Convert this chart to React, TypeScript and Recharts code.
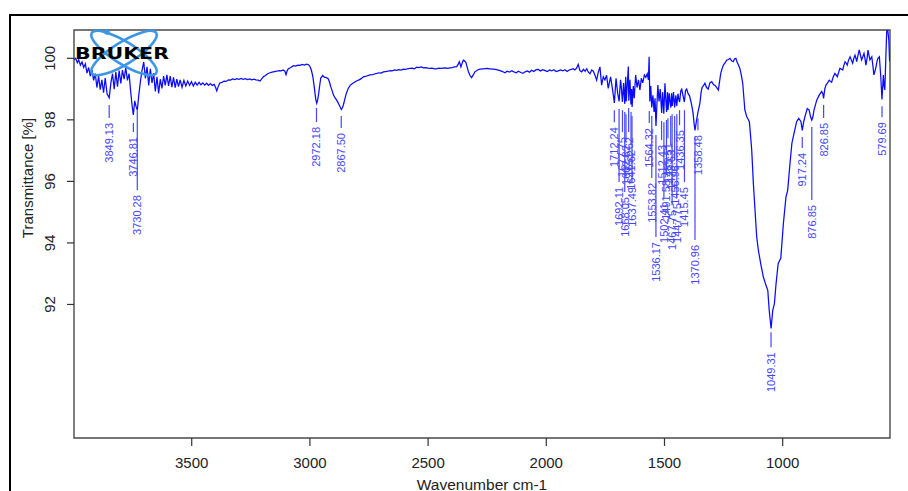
import React from 'react';
import { ComposedChart, Line, Scatter, XAxis, YAxis, ReferenceArea, Label } from 'recharts';

// ---- data ----
const spectrumPoints: [number, number][] = [
  [3998, 99.95], [3991, 100.0], [3984, 99.86], [3978, 99.95], [3971, 99.78], [3964, 99.88], [3957, 99.7], [3950, 99.82],
  [3943, 99.52], [3936, 99.7], [3929, 99.42], [3922, 99.62], [3915, 99.28], [3908, 99.5], [3901, 99.05], [3894, 99.42],
  [3887, 98.98], [3880, 99.3], [3873, 98.88], [3866, 99.36], [3858, 98.84], [3849, 98.72], [3842, 99.2], [3835, 99.5],
  [3828, 99.0], [3821, 99.55], [3814, 99.08], [3807, 99.6], [3800, 99.18], [3793, 99.62], [3786, 99.32], [3779, 99.7],
  [3772, 99.28], [3765, 99.5], [3758, 98.9], [3752, 98.45], [3747, 98.16], [3741, 98.62], [3735, 98.42], [3730, 98.32],
  [3724, 98.8], [3717, 99.25], [3710, 99.62], [3703, 99.88], [3696, 99.35], [3689, 99.72], [3682, 99.12], [3675, 99.66],
  [3668, 99.2], [3661, 99.52], [3654, 98.92], [3647, 99.4], [3640, 98.86], [3633, 99.32], [3626, 99.02], [3619, 99.42],
  [3612, 99.12], [3605, 99.46], [3598, 99.1], [3591, 99.42], [3584, 99.06], [3577, 99.38], [3570, 99.05], [3563, 99.32],
  [3556, 99.08], [3549, 99.3], [3541, 99.06], [3533, 99.28], [3525, 99.1], [3517, 99.26], [3509, 99.12], [3501, 99.24],
  [3493, 99.1], [3485, 99.22], [3477, 99.13], [3469, 99.22], [3461, 99.14], [3453, 99.2], [3445, 99.13], [3437, 99.19],
  [3429, 99.12], [3421, 99.18], [3413, 99.12], [3405, 99.15], [3399, 99.05], [3394, 98.94], [3388, 99.08], [3381, 99.2],
  [3372, 99.22], [3363, 99.26], [3354, 99.25], [3345, 99.3], [3336, 99.29], [3327, 99.33], [3318, 99.31], [3309, 99.34],
  [3300, 99.32], [3291, 99.35], [3282, 99.32], [3273, 99.34], [3264, 99.31], [3255, 99.33], [3246, 99.3], [3237, 99.32],
  [3228, 99.3], [3219, 99.29], [3211, 99.26], [3204, 99.33], [3197, 99.4], [3188, 99.44], [3179, 99.5], [3169, 99.53],
  [3160, 99.55], [3150, 99.57], [3140, 99.58], [3131, 99.6], [3122, 99.59], [3113, 99.62], [3106, 99.58], [3101, 99.47],
  [3096, 99.6], [3091, 99.66], [3081, 99.7], [3070, 99.76], [3061, 99.75], [3051, 99.78], [3042, 99.77], [3033, 99.8],
  [3023, 99.78], [3014, 99.81], [3006, 99.79], [3000, 99.74], [2994, 99.62], [2988, 99.42], [2983, 99.15], [2979, 98.9],
  [2975, 98.65], [2971, 98.54], [2967, 98.66], [2963, 98.85], [2958, 99.15], [2954, 99.36], [2946, 99.44], [2938, 99.38],
  [2932, 99.38], [2922, 99.33], [2917, 99.22], [2912, 99.08], [2906, 98.95], [2901, 98.82], [2894, 98.72], [2887, 98.64],
  [2881, 98.56], [2876, 98.48], [2871, 98.4], [2867, 98.34], [2862, 98.4], [2858, 98.5], [2852, 98.68], [2846, 98.86],
  [2838, 99.02], [2829, 99.13], [2820, 99.18], [2810, 99.23], [2801, 99.27], [2792, 99.3], [2783, 99.34], [2774, 99.4],
  [2765, 99.41], [2755, 99.44], [2746, 99.46], [2736, 99.47], [2727, 99.49], [2717, 99.51], [2708, 99.53], [2699, 99.52],
  [2689, 99.56], [2680, 99.57], [2670, 99.58], [2661, 99.6], [2652, 99.59], [2642, 99.62], [2633, 99.61], [2624, 99.63],
  [2614, 99.62], [2605, 99.65], [2596, 99.64], [2586, 99.66], [2577, 99.67], [2567, 99.68], [2558, 99.66], [2548, 99.71],
  [2539, 99.7], [2529, 99.72], [2520, 99.69], [2510, 99.7], [2501, 99.68], [2492, 99.67], [2483, 99.68], [2473, 99.66],
  [2464, 99.66], [2455, 99.68], [2446, 99.67], [2437, 99.68], [2427, 99.69], [2417, 99.67], [2407, 99.69], [2398, 99.7],
  [2388, 99.72], [2379, 99.73], [2373, 99.8], [2368, 99.89], [2364, 99.8], [2361, 99.72], [2357, 99.82], [2351, 99.94],
  [2346, 99.92], [2340, 99.86], [2335, 99.72], [2330, 99.58], [2323, 99.44], [2316, 99.37], [2309, 99.46], [2302, 99.56],
  [2291, 99.62], [2280, 99.65], [2266, 99.66], [2252, 99.67], [2238, 99.66], [2224, 99.65], [2210, 99.63], [2196, 99.6],
  [2185, 99.57], [2175, 99.53], [2166, 99.58], [2156, 99.55], [2146, 99.6], [2137, 99.56], [2127, 99.53], [2118, 99.58],
  [2108, 99.54], [2099, 99.51], [2090, 99.56], [2081, 99.59], [2071, 99.55], [2062, 99.61], [2053, 99.57], [2043, 99.63],
  [2034, 99.64], [2025, 99.59], [2015, 99.63], [2005, 99.6], [1996, 99.57], [1986, 99.62], [1977, 99.59], [1968, 99.63],
  [1958, 99.57], [1949, 99.59], [1940, 99.62], [1930, 99.59], [1921, 99.63], [1912, 99.57], [1903, 99.62], [1894, 99.64],
  [1886, 99.66], [1879, 99.62], [1872, 99.68], [1865, 99.8], [1858, 99.6], [1850, 99.56], [1843, 99.64], [1836, 99.58],
  [1829, 99.66], [1822, 99.55], [1815, 99.5], [1808, 99.62], [1801, 99.58], [1794, 99.45], [1787, 99.29], [1780, 99.55],
  [1773, 99.72], [1766, 99.13], [1759, 99.4], [1752, 99.3], [1745, 99.45], [1738, 99.02], [1728, 99.4], [1719, 98.95],
  [1712, 98.55], [1705, 99.35], [1698, 98.86], [1692, 98.6], [1686, 99.3], [1683, 99.1], [1678, 98.58], [1673, 99.2],
  [1668, 98.52], [1664, 99.4], [1662, 98.6], [1657, 99.2], [1653, 99.73], [1651, 98.62], [1646, 99.3], [1642, 98.5],
  [1639, 99.0], [1637, 98.42], [1632, 99.1], [1628, 98.7], [1622, 99.46], [1616, 99.05], [1610, 99.3], [1604, 98.97],
  [1598, 99.35], [1592, 99.2], [1585, 99.46], [1579, 99.38], [1573, 99.5], [1568, 99.3], [1565, 100.05], [1562, 98.6],
  [1558, 99.1], [1554, 98.4], [1549, 98.8], [1544, 98.26], [1540, 98.7], [1536, 97.8], [1532, 98.5], [1528, 99.13],
  [1523, 98.6], [1518, 99.0], [1512, 98.22], [1508, 98.9], [1503, 98.2], [1498, 99.19], [1494, 98.6], [1491, 98.26],
  [1487, 98.9], [1485, 98.32], [1480, 98.86], [1476, 98.55], [1473, 98.4], [1470, 98.86], [1467, 98.45], [1462, 98.9],
  [1457, 98.4], [1452, 98.8], [1448, 98.45], [1443, 98.85], [1439, 98.65], [1436, 98.58], [1431, 98.95], [1427, 99.0],
  [1422, 98.8], [1416, 98.58], [1411, 98.95], [1406, 99.0], [1400, 98.85], [1394, 98.78], [1388, 98.59], [1383, 98.4],
  [1379, 98.21], [1375, 97.9], [1371, 97.66], [1366, 97.9], [1363, 98.05], [1358, 98.27], [1354, 98.4], [1350, 98.55],
  [1345, 98.9], [1341, 99.05], [1336, 99.1], [1329, 99.19], [1322, 99.05], [1315, 99.0], [1308, 99.2], [1300, 99.24],
  [1293, 99.15], [1286, 99.12], [1279, 99.05], [1272, 98.97], [1267, 99.25], [1262, 99.51], [1257, 99.65], [1251, 99.78],
  [1244, 99.85], [1237, 99.94], [1230, 99.96], [1223, 100.0], [1216, 99.92], [1209, 99.89], [1204, 99.98], [1198, 100.0],
  [1193, 99.88], [1188, 99.8], [1181, 99.67], [1175, 99.45], [1169, 99.19], [1164, 98.7], [1160, 98.32], [1152, 98.1],
  [1146, 98.02], [1141, 97.94], [1136, 97.5], [1131, 97.02], [1124, 95.93], [1117, 95.07], [1110, 94.2], [1103, 93.77],
  [1093, 93.33], [1082, 92.9], [1071, 92.63], [1063, 92.46], [1057, 91.81], [1049, 91.22], [1042, 91.81], [1035, 92.03],
  [1028, 92.68], [1019, 93.33], [1008, 93.5], [997, 94.63], [986, 95.5], [979, 95.7], [969, 96.59], [961, 97.24],
  [952, 97.56], [941, 97.94], [932, 98.05], [923, 97.95], [917, 97.66], [912, 97.9], [906, 98.1], [896, 98.37],
  [888, 98.32], [882, 98.1], [877, 97.99], [872, 98.1], [868, 98.3], [856, 98.64], [845, 98.81], [835, 98.92],
  [830, 98.85], [827, 98.7], [822, 99.0], [817, 99.13], [810, 99.2], [803, 99.29], [798, 99.25], [793, 99.22],
  [786, 99.4], [779, 99.51], [774, 99.46], [769, 99.4], [763, 99.55], [758, 99.67], [752, 99.65], [746, 99.62],
  [741, 99.78], [736, 99.89], [731, 99.84], [727, 99.78], [721, 99.95], [715, 100.05], [710, 99.95], [704, 99.84],
  [699, 100.0], [694, 100.1], [690, 100.0], [687, 99.89], [682, 100.08], [676, 100.27], [671, 100.1], [666, 99.95],
  [661, 100.05], [656, 100.16], [652, 100.0], [648, 99.78], [643, 100.0], [639, 100.27], [635, 100.1], [631, 99.95],
  [627, 100.0], [623, 100.05], [619, 99.8], [614, 99.46], [609, 99.6], [605, 99.73], [601, 99.9], [597, 100.0],
  [591, 100.05], [585, 99.4], [580, 98.66], [576, 99.2], [574, 99.46], [571, 99.1], [568, 98.97], [566, 99.4],
  [564, 99.94], [560, 100.87], [556, 100.95], [551, 100.6], [548, 99.94], [546, 99.9],
];

const peakWavenumbers = [
  3849.13, 3746.81, 3730.28, 2972.18, 2867.5, 1712.24, 1692.11, 1677.75, 1668.05, 1662.82, 1651.62,
  1641.62, 1637.49, 1564.32, 1553.82, 1536.17, 1512.43, 1502.41, 1491.58, 1485.51, 1473.63, 1467.75,
  1456.96, 1447.75, 1436.35, 1415.45, 1370.96, 1358.48, 1049.31, 917.24, 876.85, 826.85, 579.69,
];
const peakTransmittance = [
  98.68, 98.09, 98.51, 98.58, 98.32, 98.51, 98.55, 98.51, 98.45, 98.38, 98.58,
  98.45, 98.32, 98.48, 98.32, 97.7, 98.16, 98.12, 98.19, 98.25, 98.32, 98.38,
  98.32, 98.38, 98.51, 98.51, 97.64, 98.25, 91.29, 97.64, 97.96, 98.68, 98.64,
];

const xTicks = [3500, 3000, 2500, 2000, 1500, 1000];
const yTicks = [92, 94, 96, 98, 100];
const xDomain: [number, number] = [546, 3998];
const yDomain: [number, number] = [87.66, 100.92];

// layout: length (px) of each peak's leader line (staggers overlapping labels)
const peakLeaderLength = [
  13, 9, 80, 14, 12, 12, 73, 22, 80, 26, 24,
  33, 66, 12, 62, 102, 19, 76, 55, 20, 29, 91,
  44, 84, 15, 72, 103, 12, 15, 11, 73, 13, 11,
];

// ---- tables for the library ----
const spectrum = spectrumPoints.map(([wn, t]) => ({ wn, t }));
const peaks = peakWavenumbers.map((wn, i) => ({
  wn,
  t: peakTransmittance[i],
  label: wn.toFixed(2),
  lead: peakLeaderLength[i],
}));

const FONT = '"Liberation Sans", Arial, Helvetica, sans-serif';
const LABEL_BLUE = '#4646ff';
const TEXT = '#222';

function PeakMarker(props: any) {
  const { cx, cy, payload } = props;
  if (cx == null || cy == null) return null;
  const top = cy + 6;
  const bottom = top + payload.lead;
  const ty = bottom + 5;
  return (
    <g>
      <line x1={cx} y1={top} x2={cx} y2={bottom} stroke={LABEL_BLUE} strokeWidth={1.2} />
      <text
        x={cx}
        y={ty}
        transform={`rotate(-90 ${cx} ${ty})`}
        textAnchor="end"
        dominantBaseline="central"
        fontSize={11}
        fontFamily={FONT}
        fill={LABEL_BLUE}
      >
        {payload.label}
      </text>
    </g>
  );
}

function YTick(props: any) {
  const { y, payload } = props;
  const x = 50;
  return (
    <text
      x={x}
      y={y}
      transform={`rotate(-90 ${x} ${y})`}
      textAnchor="middle"
      dominantBaseline="central"
      fontSize={15}
      fontFamily={FONT}
      fill={TEXT}
    >
      {payload.value}
    </text>
  );
}

function XTick(props: any) {
  const { x, payload } = props;
  return (
    <text x={x} y={462} textAnchor="middle" dominantBaseline="central" fontSize={15} fontFamily={FONT} fill={TEXT}>
      {payload.value}
    </text>
  );
}

export default function App() {
  return (
    <div style={{ position: 'absolute', left: 0, top: 0, width: 908, height: 491, overflow: 'hidden', background: '#fff' }}>
      <div
        style={{
          position: 'absolute',
          left: 9,
          top: 14,
          width: 1000,
          height: 1000,
          border: '2px solid #000',
          boxSizing: 'border-box',
        }}
      />
      <div style={{ position: 'absolute', left: 0, top: 0 }}>
        <ComposedChart width={908} height={491} margin={{ top: 30, right: 18, bottom: 0, left: 0 }}>
          <XAxis
            type="number"
            dataKey="wn"
            domain={xDomain}
            reversed
            allowDataOverflow
            ticks={xTicks}
            tick={<XTick />}
            tickSize={8}
            tickLine={{ stroke: '#333', strokeWidth: 1.2 }}
            axisLine={false}
            height={53}
          >
            <Label
              content={() => (
                <text x={482} y={484} textAnchor="middle" dominantBaseline="central" fontSize={15.5} fontFamily={FONT} fill={TEXT}>
                  Wavenumber cm-1
                </text>
              )}
            />
          </XAxis>
          <YAxis
            type="number"
            domain={yDomain}
            allowDataOverflow
            ticks={yTicks}
            tick={<YTick />}
            tickSize={7}
            tickLine={{ stroke: '#333', strokeWidth: 1.2 }}
            axisLine={false}
            width={74}
          >
            <Label
              content={() => (
                <text
                  x={27}
                  y={178}
                  transform="rotate(-90 27 178)"
                  textAnchor="middle"
                  dominantBaseline="central"
                  fontSize={15}
                  fontFamily={FONT}
                  fill={TEXT}
                >
                  Transmittance [%]
                </text>
              )}
            />
          </YAxis>
          <ReferenceArea
            x1={xDomain[0]}
            x2={xDomain[1]}
            y1={yDomain[0]}
            y2={yDomain[1]}
            fill="none"
            stroke="#4a4a4a"
            strokeWidth={1.4}
          />
          <Line
            data={spectrum}
            dataKey="t"
            type="linear"
            stroke="#0a0aff"
            strokeWidth={1.25}
            dot={false}
            activeDot={false}
            isAnimationActive={false}
          />
          <Scatter data={peaks} dataKey="t" shape={<PeakMarker />} isAnimationActive={false} />
        </ComposedChart>
      </div>
      <svg width={908} height={491} style={{ position: 'absolute', left: 0, top: 0, pointerEvents: 'none' }}>
        <ellipse cx={124} cy={53} rx={38} ry={11} transform="rotate(32 124 53)" fill="none" stroke="#3b97e6" strokeWidth={2.6} />
        <ellipse cx={124} cy={53} rx={38} ry={11} transform="rotate(-32 124 53)" fill="none" stroke="#3b97e6" strokeWidth={2.6} />
        <circle cx={107} cy={32} r={2.8} fill="#3b97e6" />
        <text
          x={75}
          y={58.5}
          textLength={94}
          lengthAdjust="spacingAndGlyphs"
          fontSize={15}
          fontWeight="bold"
          fontFamily='"DejaVu Sans", "Liberation Sans", Arial, sans-serif'
          fill="#000"
        >
          BRUKER
        </text>
      </svg>
    </div>
  );
}
